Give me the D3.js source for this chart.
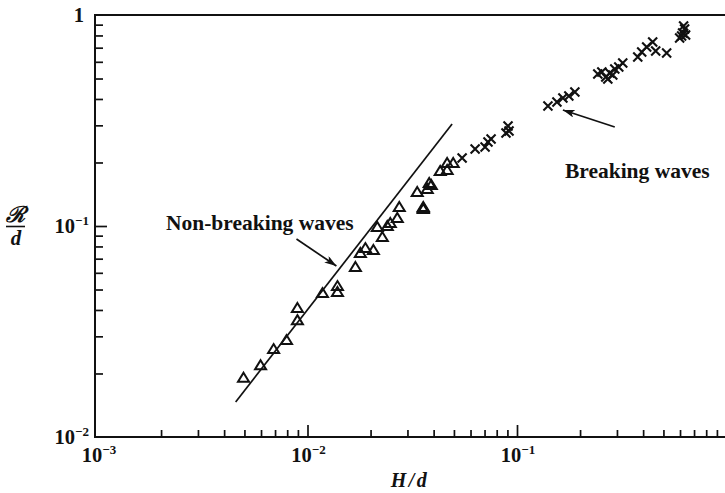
<!DOCTYPE html>
<html>
<head>
<meta charset="utf-8">
<script src="https://cdn.jsdelivr.net/npm/d3@7"></script>
<style>
  html, body { margin: 0; padding: 0; background: #fff; overflow: hidden; }
  svg { display: block; }
  text { font-family: "Liberation Serif", "Times New Roman", serif; font-weight: bold; fill: #111; }
</style>
</head>
<body>
<svg id="chart" width="725" height="493"></svg>
<script>
// Run-up R/d against wave height H/d (log–log)
const nonBreakingH = [0.00495, 0.00597, 0.00689, 0.00794, 0.00895, 0.00895, 0.01179, 0.01390, 0.01390,
  0.01693, 0.01788, 0.01889, 0.02063, 0.02276, 0.02154, 0.02404, 0.02484, 0.02683, 0.02742,
  0.0334, 0.0357, 0.0357, 0.0357, 0.0373, 0.0381, 0.0390, 0.0430, 0.0464, 0.0464, 0.0496];
const nonBreakingR = [0.0191, 0.0219, 0.0261, 0.0288, 0.0358, 0.0409, 0.0481, 0.0487, 0.0519,
  0.0639, 0.0745, 0.0786, 0.0770, 0.0887, 0.0989, 0.1000, 0.1033, 0.1091, 0.1230,
  0.1449, 0.1205, 0.1217, 0.1230, 0.1497, 0.1599, 0.1564, 0.1823, 0.1842, 0.1989, 0.1989];

const breakingH = [0.0547, 0.0631, 0.0704, 0.0727, 0.0752, 0.0886, 0.0916, 0.0906,
  0.1405, 0.1551, 0.1656, 0.1768, 0.1889,
  0.2430, 0.2540, 0.2653, 0.2713, 0.2772, 0.2929, 0.3060, 0.3197, 0.2865,
  0.3770, 0.3937, 0.4159, 0.4442, 0.4591, 0.5179,
  0.5974, 0.6173, 0.631, 0.6105, 0.6378, 0.624];
const breakingR = [0.2101, 0.2317, 0.2368, 0.2501, 0.2585, 0.2760, 0.2820, 0.2978,
  0.3704, 0.3870, 0.4044, 0.4133, 0.4316,
  0.5253, 0.5369, 0.5084, 0.4974, 0.5311, 0.5547, 0.5670, 0.5923, 0.5195,
  0.6324, 0.6677, 0.7054, 0.7447, 0.6751, 0.6606,
  0.778, 0.822, 0.8583, 0.7952, 0.804, 0.887];

// Theoretical line for non-breaking waves (end points)
const theoryH = [0.00454, 0.0490];
const theoryR = [0.01465, 0.3043];

// Axis ticks
const xMajorTicks = [1e-3, 1e-2, 1e-1];
const xTickBase = ["10", "10", "10"];
const xTickExp = ["−3", "−2", "−1"];
const yMajorTicks = [1e-2, 1e-1, 1];
const yTickBase = ["10", "10", "1"];
const yTickExp = ["−2", "−1", ""];

// Annotations
const noteText = ["Non-breaking waves", "Breaking waves"];
const noteH = [0.00211, 0.1693];
const noteR = [0.0957, 0.1689];
const arrowFromH = [0.00886, 0.2929];
const arrowFromR = [0.0868, 0.2945];
const arrowToH = [0.01374, 0.1656];
const arrowToR = [0.0646, 0.3546];

const svg = d3.select("#chart");
const ink = "#111";

const x = d3.scaleLog().domain([1e-3, 1]).range([98, 726.5]);
const y = d3.scaleLog().domain([1e-2, 1]).range([437, 15]);

const minorOf = (decades) => decades.flatMap(p => d3.range(2, 10).map(m => m * Math.pow(10, p)));
const xMinor = minorOf([-3, -2, -1]);
const yMinor = minorOf([-2, -1]);

const axisLeftX = 95;

// Frame lines (top and bottom run off the right edge)
svg.append("line").attr("x1", axisLeftX).attr("x2", 725).attr("y1", y(1)).attr("y2", y(1))
  .attr("stroke", ink).attr("stroke-width", 2);

function styleAxis(g) {
  g.select(".domain").remove();
  g.selectAll(".tick line").attr("stroke", ink).attr("stroke-width", 1.7);
  g.selectAll(".tick text").remove();
}

// Bottom axis: minor + major ticks pointing inward
svg.append("g").attr("transform", `translate(0,${y(1e-2)})`)
  .call(d3.axisBottom(x).tickValues(xMinor).tickSize(-7).tickSizeOuter(0).tickFormat(""))
  .call(styleAxis);
svg.append("g").attr("transform", `translate(0,${y(1e-2)})`)
  .call(d3.axisBottom(x).tickValues(xMajorTicks.slice(1)).tickSize(-12).tickSizeOuter(0).tickFormat(""))
  .call(styleAxis);
svg.append("line").attr("x1", axisLeftX).attr("x2", 725).attr("y1", y(1e-2)).attr("y2", y(1e-2))
  .attr("stroke", ink).attr("stroke-width", 2);

// Left axis
svg.append("g").attr("transform", `translate(${axisLeftX},0)`)
  .call(d3.axisLeft(y).tickValues(yMinor).tickSize(-8).tickSizeOuter(0).tickFormat(""))
  .call(styleAxis);
svg.append("g").attr("transform", `translate(${axisLeftX},0)`)
  .call(d3.axisLeft(y).tickValues([1e-1]).tickSize(-12).tickSizeOuter(0).tickFormat(""))
  .call(styleAxis);
svg.append("line").attr("x1", axisLeftX).attr("x2", axisLeftX).attr("y1", y(1) - 1).attr("y2", y(1e-2) + 1)
  .attr("stroke", ink).attr("stroke-width", 2);

// Tick labels with superscript exponents
function powerLabel(sel, base, exp) {
  sel.append("tspan").text(base);
  if (exp) sel.append("tspan").attr("dy", -8).attr("font-size", 13).text(exp);
}
xMajorTicks.forEach((v, i) => {
  const t = svg.append("text").attr("x", x(v) + 1).attr("y", 462).attr("text-anchor", "middle")
    .attr("font-size", 20.5);
  powerLabel(t, xTickBase[i], xTickExp[i]);
});
yMajorTicks.forEach((v, i) => {
  const t = svg.append("text").attr("x", yTickExp[i] ? 89 : 84).attr("y", y(v) + 7).attr("text-anchor", "end")
    .attr("font-size", 20.5);
  powerLabel(t, yTickBase[i], yTickExp[i]);
});

// Axis titles
svg.append("text").attr("x", 410).attr("y", 487).attr("text-anchor", "middle")
  .attr("font-size", 20).attr("font-style", "italic").attr("letter-spacing", 2.5).text("H/d");
svg.append("text").attr("x", 15).attr("y", 222).attr("text-anchor", "middle")
  .attr("font-size", 22).attr("font-style", "italic")
  .style("font-family", "'DejaVu Serif', serif").text("ℛ");
svg.append("line").attr("x1", 6).attr("x2", 25).attr("y1", 226.5).attr("y2", 226.5)
  .attr("stroke", ink).attr("stroke-width", 1.6);
svg.append("text").attr("x", 16).attr("y", 245).attr("text-anchor", "middle")
  .attr("font-size", 21).attr("font-style", "italic").text("d");

// Theory line
svg.append("path")
  .datum(theoryH.map((h, i) => [h, theoryR[i]]))
  .attr("d", d3.line().x(d => x(d[0])).y(d => y(d[1])))
  .attr("fill", "none").attr("stroke", ink).attr("stroke-width", 1.7);

// Markers
const triPath = "M0,-5L5.5,4L-5.5,4Z";
const crossPath = "M-4.5,-4.5L4.5,4.5M4.5,-4.5L-4.5,4.5";

svg.append("g").selectAll("path")
  .data(nonBreakingH.map((h, i) => [h, nonBreakingR[i]]))
  .join("path")
  .attr("transform", d => `translate(${x(d[0])},${y(d[1])})`)
  .attr("d", triPath)
  .attr("fill", "none").attr("stroke", ink).attr("stroke-width", 2).attr("stroke-linejoin", "miter");

svg.append("g").selectAll("path")
  .data(breakingH.map((h, i) => [h, breakingR[i]]))
  .join("path")
  .attr("transform", d => `translate(${x(d[0])},${y(d[1])})`)
  .attr("d", crossPath)
  .attr("fill", "none").attr("stroke", ink).attr("stroke-width", 2.1);

// Arrowhead
svg.append("defs").append("marker")
  .attr("id", "head").attr("viewBox", "0 0 12 8").attr("refX", 12).attr("refY", 4)
  .attr("markerWidth", 12).attr("markerHeight", 8).attr("markerUnits", "userSpaceOnUse")
  .attr("orient", "auto")
  .append("path").attr("d", "M0,0L12,4L0,8L3,4Z").attr("fill", ink);

noteText.forEach((t, i) => {
  svg.append("text").attr("x", x(noteH[i])).attr("y", y(noteR[i]))
    .attr("font-size", 21.5).text(t);
  svg.append("line")
    .attr("x1", x(arrowFromH[i])).attr("y1", y(arrowFromR[i]))
    .attr("x2", x(arrowToH[i])).attr("y2", y(arrowToR[i]))
    .attr("stroke", ink).attr("stroke-width", 1.7).attr("marker-end", "url(#head)");
});
</script>
</body>
</html>
